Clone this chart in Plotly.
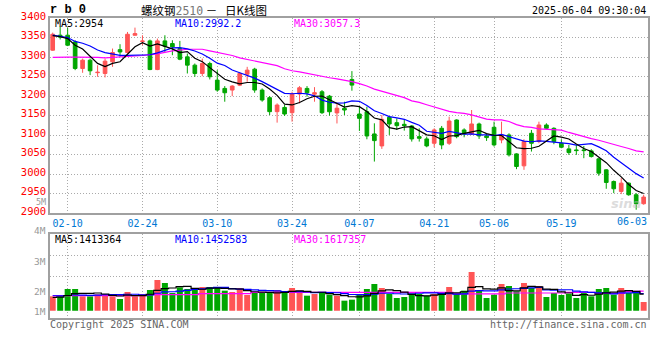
import plotly.graph_objects as go

# ---------------- data ----------------
dates = ['02-06','02-07','02-10','02-11','02-12','02-13','02-14','02-17','02-18','02-19','02-20','02-21',
         '02-24','02-25','02-26','02-27','02-28',
         '03-03','03-04','03-05','03-06','03-07','03-10','03-11','03-12','03-13','03-14','03-17','03-18',
         '03-19','03-20','03-21','03-24','03-25','03-26','03-27','03-28','03-31',
         '04-01','04-02','04-03','04-07','04-08','04-09','04-10','04-11','04-14','04-15','04-16','04-17',
         '04-18','04-21','04-22','04-23','04-24','04-25','04-28','04-29','04-30',
         '05-06','05-07','05-08','05-09','05-12','05-13','05-14','05-15','05-16','05-19','05-20','05-21',
         '05-22','05-23','05-26','05-27','05-28','05-29','05-30',
         '06-03','06-04']

opens = [3317.6,3356,3356,3338.8,3270.8,3292,3260,3258,3287.8,3319,3311.6,3355.8,3340,3341.4,3268,3341.4,
         3334.6,3321.8,3300.5,3279.3,3258,3283.5,3241,3219.7,3215.5,3228,3256,3269,3215.5,3196,3160.2,3171,
         3157.6,3205.3,3219.7,3205,3211.2,3200,3157,3168.7,3242.7,3154.2,3160.1,3103.2,3072.5,3145.7,3132,
         3127.8,3123.6,3096.3,3090.4,3079.3,3117.6,3079.3,3138.9,3113.4,3103.2,3128.7,3098,3120.2,3087.9,
         3100.6,3052.1,3021.5,3104.9,3083.6,3126.1,3117.6,3079.3,3064.9,3062.3,3062.3,3059.8,3039.4,3011.3,
         2981.5,2956,2977.2,2947.5,2924.5]
highs = [3362.6,3378,3375,3343,3296,3296,3279,3296,3321.8,3332.9,3364.3,3375.4,3355.8,3344.8,3347.3,3355.8,
         3343,3341.4,3309,3283.5,3296,3288,3266.5,3225.7,3228,3262,3275,3272.5,3219.7,3200.1,3181.4,3177.2,
         3211.2,3225.7,3225.7,3223,3215.5,3203,3181,3185.7,3264,3172.9,3172.9,3130.4,3151.6,3149.1,3143.1,
         3138.9,3126.1,3117.6,3096.3,3117.6,3123.6,3147.4,3140.6,3117.6,3164.4,3132.1,3103.2,3134.6,3134.6,
         3104.9,3053.8,3089.6,3113.4,3134.6,3130.4,3120.2,3089.6,3075,3075,3072.5,3064,3041.1,3013,
         2984,2990,2979,2951.7,2947.5]
lows = [3315.9,3345,3328,3266.5,3259.7,3253.7,3249.5,3247.8,3275,3300.5,3309,3355,3330.3,3266.5,3266.5,3313.3,
        3304.8,3292,3258,3249.5,3251,3242.7,3211.2,3185.7,3200,3225.7,3236.7,3208.6,3185.7,3151.6,3132.1,3149.1,
        3134.6,3181.4,3198.4,3185.7,3154.2,3150,3130,3151.7,3213.8,3110.8,3089.5,3032.5,3064.9,3100.6,3113.4,
        3111.7,3083.6,3083.6,3069.1,3069.1,3064,3075,3092.1,3094.6,3100.6,3090.4,3085.3,3070.8,3079.3,
        3045.3,3013,3011.3,3058.1,3079.3,3115.1,3076.8,3066.6,3049.6,3049.6,3041.1,3042.8,2996,2962.8,
        2951.7,2949.2,2945,2909.2,2922]
closes = [3358.4,3351,3330.3,3270.8,3292,3264.8,3261,3289.5,3311.6,3313,3358.4,3360,3341,3268,3341.4,3327.8,
          3326,3294.6,3279.3,3258,3283.5,3249.5,3215.5,3208.6,3225.7,3258,3266.5,3215.5,3190,3160.2,3177.2,3154.2,
          3205.3,3221.4,3208.6,3208.6,3157.6,3160,3169,3164.4,3228.2,3143.1,3098,3086.1,3140.6,3128.7,3124.4,
          3124.4,3090.4,3092.1,3072.5,3113.4,3075,3136.3,3096.3,3103.2,3128.7,3098,3093.8,3075.1,3100.6,
          3049.6,3019.8,3083.6,3079.3,3126.1,3117.6,3083.6,3069.1,3055.5,3060.6,3060.6,3045.3,3002.8,2978.9,
          2962.8,2977.2,2947.5,2924.5,2941.5]
volumes = [1292000,1292000,1750000,1750000,1292000,1292000,1417000,1437000,1292000,1125000,1563000,1292000,
           1437000,1688000,2313000,2125000,1500000,1854000,1750000,1688000,1875000,1875000,1854000,1646000,
           1563000,1813000,1375000,1500000,1500000,1500000,1688000,1500000,1813000,1646000,1333000,1437000,
           1500000,1396000,1333000,1021000,1083000,1437000,1750000,2063000,1813000,1437000,1188000,1250000,
           1396000,1437000,1333000,1437000,1437000,1875000,1500000,1646000,2813000,1646000,1188000,1396000,
           2063000,1938000,1604000,2125000,1813000,1938000,1250000,1500000,1375000,1437000,1188000,1500000,
           1292000,1750000,1813000,1396000,1813000,1500000,1500000,938000]

# closes / volumes just before the visible window (only used for the moving averages)
prior_closes = [3372,3370,3370,3338,3335,3366,3355,3356,3340]
prior_volumes = [1440000,1450000,1430000,1440000,1440000,1200000,1210000,1190000,1200000]

# MA30 lines
ma30_price = [3299,3300,3300,3300,3300,3300,3299,3298,3299,3301,3302,3303,3304,3306,3308,3312,3316,3318,
              3320,3320,3320,3316,3312,3308,3304,3298,3294,3290,3286,3282,3278,3270,3265,3262,3258,3254,
              3250,3247,3244,3241,3237,3232,3226,3218,3212,3208,3200,3196,3188,3184,3178,3173,3168,3161,
              3158,3156,3152,3146,3141,3139,3139,3135,3127,3122,3120,3116,3115,3113,3113,3107,3101,3096,
              3091,3087,3081,3076,3071,3066,3060,3057.3]
ma30_volume = [1330000,1330000,1330000,1330000,1330000,1330000,1330000,1330000,1330000,1330000,
               1330000,1330000,1330000,1400000,1400000,1400000,1400000,1400000,1400000,1400000,1460000,
               1460000,1460000,1460000,1460000,1460000,1460000,1540000,1540000,1540000,1540000,1540000,
               1540000,1540000,1540000,1540000,1540000,1540000,1540000,1540000,1540000,1540000,1540000,
               1540000,1540000,1540000,1540000,1540000,1540000,1540000,1540000,1540000,1540000,1540000,
               1450000,1450000,1450000,1450000,1450000,1450000,1450000,1500000,1500000,1500000,1500000,
               1500000,1500000,1500000,1500000,1540000,1540000,1540000,1540000,1480000,1480000,1480000,
               1480000,1600000,1600000,1617357]

tick_dates = ['02-10','02-24','03-10','03-24','04-07','04-21','05-06','05-19','06-03']
price_ticks = [2900,2950,3000,3050,3100,3150,3200,3250,3300,3350,3400]
vol_tick_labels = ['5M','4M','3M','2M','1M']

title_code = 'r b 0'
title_name = '螺纹钢'
title_contract = '2510'
title_kind = '日K线图'
timestamp = '2025-06-04 09:30:04'
ma_price_labels = ['MA5:2954', 'MA10:2992.2', 'MA30:3057.3']
ma_vol_labels = ['MA5:1413364', 'MA10:1452583', 'MA30:1617357']

# ---------------- helpers ----------------
def sma(values, n, prior):
    full = list(prior) + list(values)
    off = len(prior)
    out = []
    for i in range(len(values)):
        j = i + off
        win = full[max(0, j - n + 1): j + 1]
        out.append(sum(win) / len(win))
    return out

W, H = 660, 360
ML, MR, MT, MB = 50, 10, 18, 42
PW, PH = W - ML - MR, H - MT - MB

def fx(px):
    return (px - ML) / PW

def fy(py):
    return (H - MB - py) / PH

RED = '#FF5555'
GREEN = '#00A600'
GRID = '#AAAAAA'
BORDER = '#A0A0A0'
MONO = 'DejaVu Sans Mono, monospace'

xs = list(range(len(dates)))
ma5 = sma(closes, 5, prior_closes)
ma10 = sma(closes, 10, prior_closes)
vma5 = sma(volumes, 5, prior_volumes)
vma10 = sma(volumes, 10, prior_volumes)
bar_colors = [RED if c >= o else GREEN for o, c in zip(opens, closes)]
VOL_BASE = 390000

fig = go.Figure()
fig.add_trace(go.Candlestick(
    x=xs, open=opens, high=highs, low=lows, close=closes,
    increasing=dict(line=dict(color=RED, width=1), fillcolor=RED),
    decreasing=dict(line=dict(color=GREEN, width=1), fillcolor=GREEN),
    whiskerwidth=0, xaxis='x', yaxis='y', showlegend=False))
fig.add_trace(go.Scatter(x=xs, y=ma30_price, mode='lines', line=dict(color='#FF00FF', width=1.2),
                         xaxis='x', yaxis='y', showlegend=False))
fig.add_trace(go.Scatter(x=xs, y=ma10, mode='lines', line=dict(color='#0000FF', width=1.2),
                         xaxis='x', yaxis='y', showlegend=False))
fig.add_trace(go.Scatter(x=xs, y=ma5, mode='lines', line=dict(color='#000000', width=1.2),
                         xaxis='x', yaxis='y', showlegend=False))

fig.add_trace(go.Bar(x=xs, y=[v - VOL_BASE for v in volumes], base=VOL_BASE, width=0.8,
                     marker=dict(color=bar_colors, line=dict(width=0)),
                     xaxis='x2', yaxis='y2', showlegend=False))
fig.add_trace(go.Scatter(x=xs, y=ma30_volume, mode='lines', line=dict(color='#FF00FF', width=1.2, shape='hvh'),
                         xaxis='x2', yaxis='y2', showlegend=False))
fig.add_trace(go.Scatter(x=xs, y=vma10, mode='lines', line=dict(color='#0000FF', width=1.2, shape='hvh'),
                         xaxis='x2', yaxis='y2', showlegend=False))
fig.add_trace(go.Scatter(x=xs, y=vma5, mode='lines', line=dict(color='#000000', width=1.2, shape='hvh'),
                         xaxis='x2', yaxis='y2', showlegend=False))

tickvals = [dates.index(d) for d in tick_dates[:-1]]
xr = [-0.36, 79.58]
common_x = dict(range=xr, showgrid=True, gridcolor=GRID, griddash='1px,2px', gridwidth=1,
                showline=True, linecolor=BORDER, linewidth=1.5, mirror=True, ticks='',
                zeroline=False, tickvals=tickvals, rangeslider=dict(visible=False), fixedrange=True)

fig.update_layout(
    width=W, height=H, margin=dict(l=ML, r=MR, t=MT, b=MB, pad=0),
    paper_bgcolor='white', plot_bgcolor='white', showlegend=False, boxgap=0.3,
    font=dict(family=MONO, size=10, color='#000'),
    xaxis=dict(common_x, anchor='y', ticktext=tick_dates[:-1], showticklabels=True,
               tickfont=dict(family=MONO, size=10, color='#0078D4')),
    xaxis2=dict(common_x, anchor='y2', matches='x', showticklabels=False),
    yaxis=dict(domain=[fy(213.3), 1.0], range=[2900, 3400], tickvals=price_ticks,
               showgrid=True, gridcolor=GRID, griddash='1px,2px', gridwidth=1,
               showline=True, linecolor=BORDER, linewidth=1.5, mirror=True, ticks='',
               ticklabelshift=-2,
               zeroline=False, tickfont=dict(family=MONO, size=10.5, color='#FF0000'), fixedrange=True),
    yaxis2=dict(domain=[0, fy(234)], range=[-62500, 5187500], tickvals=[2562500, 3875000],
                showticklabels=False, showgrid=True, gridcolor=GRID, griddash='1px,2px', gridwidth=1,
                showline=True, linecolor=BORDER, linewidth=1.5, mirror=True, ticks='',
                zeroline=False, fixedrange=True),
)

ann = []
def add(text, px, py, anchor='left', color='#000', size=10, family=MONO, pad=1):
    ann.append(dict(text=text, x=fx(px), y=fy(py), xref='paper', yref='paper', showarrow=False,
                    xanchor=anchor, yanchor='middle', borderpad=pad,
                    font=dict(family=family, size=size, color=color)))

add('<b>' + title_code + '</b>', 48, 10, size=12, family='Liberation Mono, monospace')
add(title_name + "<span style='color:#777777;font-family:DejaVu Sans Mono'>" + title_contract +
    '</span> －   ' + title_kind, 139, 9.5, size=11.5, family='Noto Sans CJK SC')
add(timestamp, 650, 10.5, anchor='right')
add(ma_price_labels[0], 53, 23.5)
add(ma_price_labels[1], 173, 23.5, color='#0000FF')
add(ma_price_labels[2], 293, 23.5, color='#FF00FF')
add(ma_vol_labels[0], 53, 239)
add(ma_vol_labels[1], 173, 239, color='#0000FF')
add(ma_vol_labels[2], 293, 239, color='#FF00FF')
for lab, py, sz in zip(vol_tick_labels, [201.5, 230.7, 261, 291, 311], [8.5, 9.5, 9.5, 9.5, 9.5]):
    add(lab, 47, py, anchor='right', color='#999999', size=sz, pad=0)
add('Copyright 2025 SINA.COM', 48, 324, color='#666666')
add('http://finance.sina.com.cn', 651, 324, anchor='right', color='#666666')
ann.append(dict(text=tick_dates[-1], x=dates.index(tick_dates[-1]), y=fy(221.5), xref='x', yref='paper',
                showarrow=False, xanchor='center', yanchor='middle', xshift=-4,
                font=dict(family=MONO, size=10, color='#0078D4')))
add('<i><b>sina</b></i>', 628, 203, anchor='center', color='rgba(190,190,190,0.55)', size=13,
    family='DejaVu Sans')
fig.update_layout(annotations=ann)

fig.write_html('out.html')
